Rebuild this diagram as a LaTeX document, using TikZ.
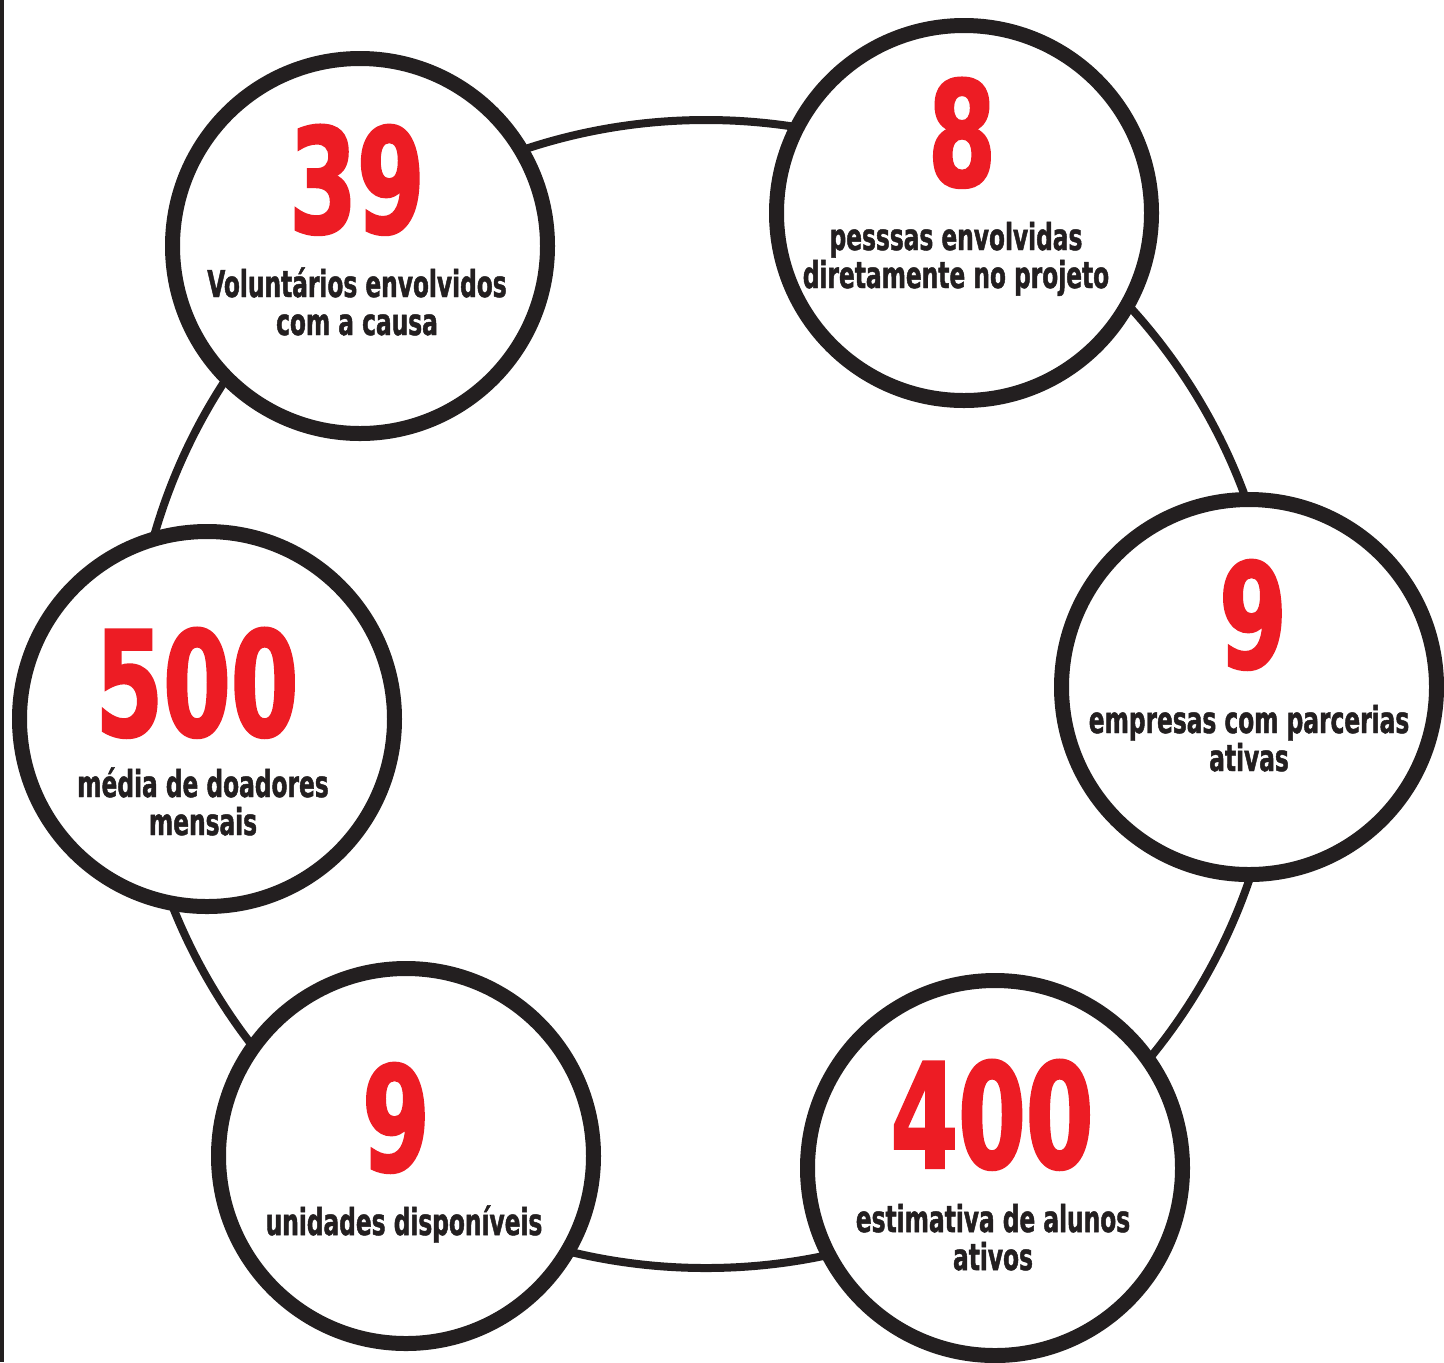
\documentclass[tikz,border=0pt]{standalone}
\usepackage{fontspec}
\newfontfamily\statfont[FakeStretch=0.74,FakeBold=1.6]{DejaVu Sans Condensed Bold}
\newfontfamily\capfont[FakeStretch=0.70,FakeBold=1.2]{DejaVu Sans Condensed Bold}
\definecolor{statred}{HTML}{ED1C24}
\definecolor{ink}{HTML}{231F20}
\tikzset{
  bubble/.style={circle,draw=ink,fill=white,line width=7.5pt,minimum size=187.5pt,inner sep=0pt},
  ring/.style={draw=ink,line width=4pt},
  bignum/.style={text=statred,font=\statfont\fontsize{73}{73}\selectfont,anchor=base,inner sep=0pt},
  caption/.style={text=ink,font=\capfont\fontsize{18.5}{19}\selectfont,align=center,anchor=base,inner sep=0pt}
}
\begin{document}
\begin{tikzpicture}[x=0.5pt,y=-0.5pt]
\useasboundingbox (0,0) rectangle (1444,1362);
\fill[ink] (0,0) rectangle (4,1362);
% the ring behind the six figures
\draw[ring] (706,694) circle[radius=574];

\node[bubble] (volunt) at (360,246) {};
\node[bubble] (pessoas) at (964,213) {};
\node[bubble] (empresas) at (1249,687) {};
\node[bubble] (alunos) at (995,1168) {};
\node[bubble] (unidades) at (406,1156) {};
\node[bubble] (doadores) at (207,719) {};

% captions sit on the baseline of their last line
\node[bignum] (n39) at (357,233) {39};
\node[caption] (t39) at (357,335) {Voluntários envolvidos\\com a causa};

\node[bignum] (n8) at (962,186) {8};
\node[caption] (t8) at (956,288) {pesssas envolvidas\\diretamente no projeto};

\node[bignum] (n9a) at (1253,668) {9};
\node[caption] (t9a) at (1249,771) {empresas com parcerias\\ativas};

\node[bignum] (n400) at (992,1168) {400};
\node[caption] (t400) at (993,1270) {estimativa de alunos\\ativos};

\node[bignum] (n9b) at (396,1171) {9};
\node[caption] (t9b) at (404,1235) {unidades disponíveis};

\node[bignum] (n500) at (197,736) {500};
\node[caption] (t500) at (203,835) {média de doadores\\mensais};

\end{tikzpicture}
\end{document}
